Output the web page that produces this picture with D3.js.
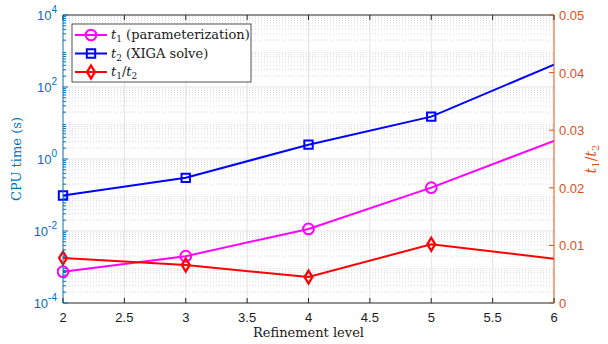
<!DOCTYPE html>
<html>
<head>
<meta charset="utf-8">
<script src="https://cdn.jsdelivr.net/npm/d3@7"></script>
<style>
  body { margin: 0; background: #fff; }
  svg { display: block; }
  .tick-lbl { font-family: "Liberation Sans", Arial, sans-serif; font-size: 13px; }
  .tex { font-family: "DejaVu Serif", "Liberation Serif", serif; }
</style>
</head>
<body>
<svg id="chart"></svg>
<script>
var levels = [2, 3, 4, 5, 6];
var markerLevels = [2, 3, 4, 5];
var t1 = [7.4e-4, 2.0e-3, 0.0114, 0.16, 3.2];      // parameterization
var t2 = [0.097, 0.30, 2.5, 15, 420];              // XIGA solve
var ratio = [0.0078, 0.0066, 0.0045, 0.0102, 0.0077];
var xTicks = [2, 2.5, 3, 3.5, 4, 4.5, 5, 5.5, 6];
var yLeftExps = [-4, -2, 0, 2, 4];
var yRightTicks = [0, 0.01, 0.02, 0.03, 0.04, 0.05];

var width = 608, height = 344;
var margin = {top: 15, right: 54, bottom: 41, left: 63};
var w = width - margin.left - margin.right,
    h = height - margin.top - margin.bottom;

var LEFT_C = "#0072BD", RIGHT_C = "#D95319", AX_C = "#262626";

var svg = d3.select("#chart").attr("width", width).attr("height", height);
var g = svg.append("g").attr("transform", "translate(" + margin.left + "," + margin.top + ")");

var x = d3.scaleLinear().domain([2, 6]).range([0, w]);
var yL = d3.scaleLog().domain([1e-4, 1e4]).range([h, 0]);
var yR = d3.scaleLinear().domain([0, 0.05]).range([h, 0]);

// minor grid (horizontal, dotted)
var minors = [];
for (var e = -4; e < 4; e++) for (var k = 2; k <= 9; k++) minors.push(k * Math.pow(10, e));
g.append("g").selectAll("line").data(minors).enter().append("line")
  .attr("x1", 0).attr("x2", w)
  .attr("y1", function(d) { return yL(d); }).attr("y2", function(d) { return yL(d); })
  .attr("stroke", "#cfcfe0").attr("stroke-width", 0.8).attr("stroke-dasharray", "1,2");

// major grid
g.append("g").selectAll("line").data(xTicks.slice(1, -1)).enter().append("line")
  .attr("x1", function(d) { return x(d); }).attr("x2", function(d) { return x(d); })
  .attr("y1", 0).attr("y2", h)
  .attr("stroke", "#e3e3e3").attr("stroke-width", 1);
g.append("g").selectAll("line").data(yLeftExps.slice(1, -1)).enter().append("line")
  .attr("x1", 0).attr("x2", w)
  .attr("y1", function(d) { return yL(Math.pow(10, d)); }).attr("y2", function(d) { return yL(Math.pow(10, d)); })
  .attr("stroke", "#e3e3e3").attr("stroke-width", 1);

// series
svg.append("clipPath").attr("id", "plotclip").append("rect")
  .attr("x", -6).attr("y", -6).attr("width", w + 6).attr("height", h + 12);

var series = [
  {vals: t1, scale: yL, color: "#FF00FF", marker: "circle"},
  {vals: t2, scale: yL, color: "#0000FF", marker: "square"},
  {vals: ratio, scale: yR, color: "#FF0000", marker: "diamond"}
];

function drawMarker(sel, type, color) {
  var sym = type === "circle" ? d3.symbolCircle : (type === "square" ? d3.symbolSquare : d3.symbolDiamond);
  var size = type === "circle" ? 90 : (type === "square" ? 70 : 40);
  sel.append("path")
    .attr("d", d3.symbol().type(sym).size(size)())
    .attr("fill", "none").attr("stroke", color).attr("stroke-width", 2)
    .attr("transform", type === "diamond" ? "scale(1.15,1.1)" : null);
}

var plot = g.append("g").attr("clip-path", "url(#plotclip)");
series.forEach(function(s) {
  var line = d3.line()
    .x(function(d, i) { return x(levels[i]); })
    .y(function(d) { return s.scale(d); });
  plot.append("path").datum(s.vals)
    .attr("d", line).attr("fill", "none")
    .attr("stroke", s.color).attr("stroke-width", 2);
  markerLevels.forEach(function(lv) {
    var i = levels.indexOf(lv);
    var m = plot.append("g").attr("transform", "translate(" + x(lv) + "," + s.scale(s.vals[i]) + ")");
    drawMarker(m, s.marker, s.color);
  });
});

// axes frame
g.append("line").attr("x1", 0).attr("x2", w).attr("y1", h).attr("y2", h).attr("stroke", AX_C);
g.append("line").attr("x1", 0).attr("x2", w).attr("y1", 0).attr("y2", 0).attr("stroke", AX_C);
g.append("line").attr("x1", 0).attr("x2", 0).attr("y1", 0).attr("y2", h).attr("stroke", LEFT_C);
g.append("line").attr("x1", w).attr("x2", w).attr("y1", 0).attr("y2", h).attr("stroke", RIGHT_C);

// x ticks (bottom + top, inward)
xTicks.forEach(function(t) {
  g.append("line").attr("x1", x(t)).attr("x2", x(t)).attr("y1", h).attr("y2", h - 5).attr("stroke", AX_C);
  g.append("line").attr("x1", x(t)).attr("x2", x(t)).attr("y1", 0).attr("y2", 5).attr("stroke", AX_C);
  g.append("text").attr("class", "tick-lbl").attr("x", x(t)).attr("y", h + 19)
    .attr("text-anchor", "middle").attr("fill", "#1a1a1a").text(d3.format("")(t));
});

// left axis ticks
minors.forEach(function(v) {
  g.append("line").attr("x1", 0).attr("x2", 3).attr("y1", yL(v)).attr("y2", yL(v)).attr("stroke", LEFT_C);
});
yLeftExps.forEach(function(e) {
  var yy = yL(Math.pow(10, e));
  g.append("line").attr("x1", 0).attr("x2", 5).attr("y1", yy).attr("y2", yy).attr("stroke", LEFT_C);
  var t = g.append("text").attr("class", "tick-lbl").attr("x", -6).attr("y", yy + 5)
    .attr("text-anchor", "end").attr("fill", LEFT_C);
  t.append("tspan").text("10");
  t.append("tspan").attr("dy", -7).attr("font-size", "10px").text(e < 0 ? "-" + (-e) : e);
});

// right axis ticks
yRightTicks.forEach(function(v) {
  g.append("line").attr("x1", w).attr("x2", w - 5).attr("y1", yR(v)).attr("y2", yR(v)).attr("stroke", RIGHT_C);
  g.append("text").attr("class", "tick-lbl").attr("x", w + 5).attr("y", yR(v) + 5)
    .attr("fill", RIGHT_C).text(v === 0 ? "0" : d3.format(".2f")(v));
});

// axis labels
svg.append("text").attr("class", "tex").attr("font-size", "13px")
  .attr("transform", "translate(21," + (margin.top + h / 2) + ") rotate(-90)")
  .attr("text-anchor", "middle").attr("fill", LEFT_C).text("CPU time (s)");

var rl = svg.append("text").attr("class", "tex").attr("font-size", "14px")
  .attr("transform", "translate(596," + (margin.top + h / 2) + ") rotate(-90)")
  .attr("text-anchor", "middle").attr("fill", RIGHT_C).attr("font-style", "italic");
rl.append("tspan").text("t");
rl.append("tspan").attr("dy", 3).attr("font-size", "10px").attr("font-style", "normal").text("1");
rl.append("tspan").attr("dy", -3).attr("font-style", "normal").text("/");
rl.append("tspan").text("t");
rl.append("tspan").attr("dy", 3).attr("font-size", "10px").attr("font-style", "normal").text("2");

svg.append("text").attr("class", "tex").attr("font-size", "13px")
  .attr("x", margin.left + w / 2).attr("y", 337)
  .attr("text-anchor", "middle").attr("fill", "#1a1a1a").text("Refinement level");

// legend
var legendItems = [
  {sub: "1", rest: " (parameterization)", s: series[0]},
  {sub: "2", rest: " (XIGA solve)", s: series[1]},
  {sub: "1", rest: "/", sub2: "2", s: series[2]}
];
var lg = svg.append("g").attr("transform", "translate(72,24)");
lg.append("rect").attr("width", 179).attr("height", 58)
  .attr("fill", "#fff").attr("stroke", AX_C).attr("stroke-width", 0.8);
legendItems.forEach(function(it, i) {
  var yy = 11 + i * 18.5;
  lg.append("line").attr("x1", 3).attr("x2", 35).attr("y1", yy).attr("y2", yy)
    .attr("stroke", it.s.color).attr("stroke-width", 2);
  var m = lg.append("g").attr("transform", "translate(19," + yy + ")");
  drawMarker(m, it.s.marker, it.s.color);
  var t = lg.append("text").attr("class", "tex").attr("font-size", "13px")
    .attr("x", 39).attr("y", yy + 4).attr("fill", "#1a1a1a");
  t.append("tspan").attr("font-style", "italic").text("t");
  t.append("tspan").attr("dy", 3).attr("font-size", "9px").text(it.sub);
  t.append("tspan").attr("dy", -3).text(it.rest);
  if (it.sub2) {
    t.append("tspan").attr("font-style", "italic").text("t");
    t.append("tspan").attr("dy", 3).attr("font-size", "9px").text(it.sub2);
  }
});
</script>
</body>
</html>
